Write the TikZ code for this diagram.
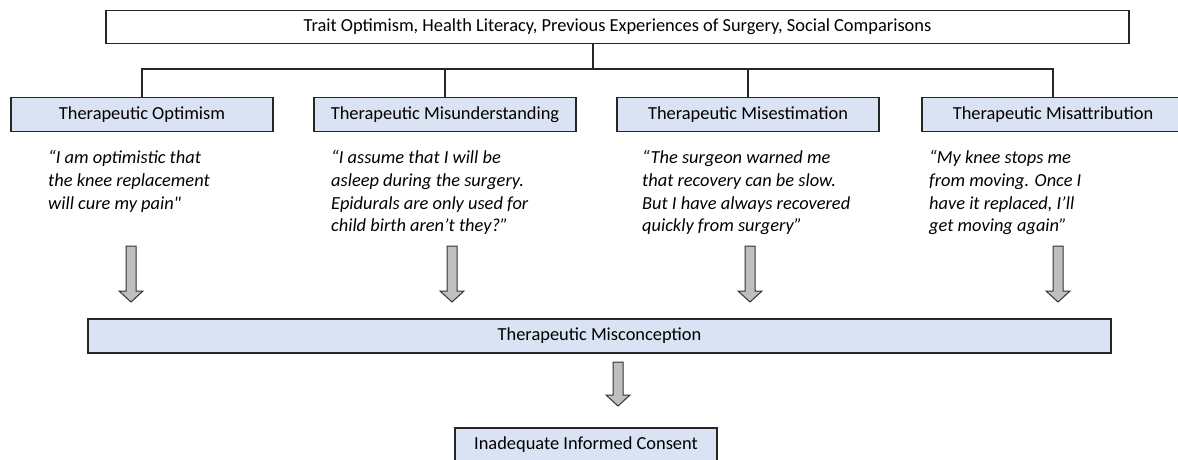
\documentclass[tikz,border=0pt]{standalone}
\usepackage{fontspec}
\setmainfont{Carlito}
\usetikzlibrary{positioning}
\definecolor{boxblue}{HTML}{DAE3F3}
\definecolor{arrowgrey}{HTML}{BFBFBF}
\newcommand{\straightq}{{\addfontfeatures{Ligatures=TeXOff}"}}
\tikzset{
  txt/.style={font=\fontsize{18.4}{22.8}\selectfont},
  plainbox/.style={txt,draw=black!85,line width=1.2pt,fill=white,minimum width=1023pt,minimum height=33pt,inner sep=0pt},
  typebox/.style={txt,draw=black!85,line width=1.2pt,fill=boxblue,minimum width=262pt,minimum height=34pt,inner sep=0pt},
  quotetxt/.style={font=\fontsize{18.4}{22.8}\selectfont\itshape,align=left,anchor=north west,inner sep=0pt},
  tree/.style={draw=black!85,line width=1.2pt},
  blockarrow/.style={draw=black!80,line width=1pt,fill=arrowgrey,line join=miter},
  pics/downarrow/.style={code={
    \draw[blockarrow](-5,0)--(5,0)--(5,#1-11)--(12,#1-11)--(0,#1)--(-12,#1-11)--(-5,#1-11)--cycle;}}
}
\begin{document}
\begin{tikzpicture}[x=1pt,y=-1pt]
    \useasboundingbox (0,0) rectangle (1178,459);
    % top row
    \node[plainbox](traits) at (617.5,27){Trait Optimism, Health Literacy, Previous Experiences of Surgery, Social Comparisons};
    \coordinate (split) at (593,69);
    \node[typebox](optim) at (142,114.5){Therapeutic Optimism};
    \node[typebox](misund) at (445,114.5){Therapeutic Misunderstanding};
    \node[typebox](misest) at (748,114.5){Therapeutic Misestimation};
    \node[typebox](misatt) at (1053,114.5){Therapeutic Misattribution};
    \draw[tree](traits.south -| split)--(split);
    \draw[tree](optim.north)--(optim.north |- split)--(misatt.north |- split)--(misatt.north);
    \draw[tree](misund.north)--(misund.north |- split);
    \draw[tree](misest.north)--(misest.north |- split);
    % quotes
    \node[quotetxt](qoptim) at (48,150){“I am optimistic that\\the knee replacement\\will cure my pain\straightq};
    \node[quotetxt](qmisund) at (331,150){“I assume that I will be\\asleep during the surgery.\\Epidurals are only used for\\child birth aren’t they?”};
    \node[quotetxt](qmisest) at (642,150){“The surgeon warned me\\that recovery can be slow.\\But I have always recovered\\quickly from surgery”};
    \node[quotetxt](qmisatt) at (929,150){“My knee stops me\\from moving. Once I\\have it replaced, I’ll\\get moving again”};
    \pic at (131,246){downarrow=56};
    \pic at (452,246){downarrow=56};
    \pic at (750,246){downarrow=56};
    \pic at (1058,246){downarrow=56};
    % bottom
    \node[typebox,minimum width=1023pt](miscon) at (599.5,336){Therapeutic Misconception};
    \pic at (618,362){downarrow=44};
    \node[typebox](consent) at (586,445){Inadequate Informed Consent};
\end{tikzpicture}
\end{document}
